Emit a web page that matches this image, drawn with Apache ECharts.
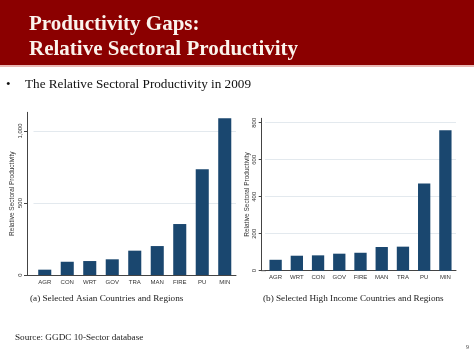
<!DOCTYPE html>
<html><head><meta charset="utf-8">
<script src="https://cdn.jsdelivr.net/npm/echarts@6/dist/echarts.min.js"></script>
<style>html,body{margin:0;padding:0;background:#fff}#c{width:474px;height:355px}</style>
</head><body><div id="c"></div>
<script>
const catsA = ['AGR','CON','WRT','GOV','TRA','MAN','FIRE','PU','MIN'];
const valsA = [37, 92, 97, 109, 169, 201, 354, 734, 1088];
const ticksA = [0, 500, 1000];
const catsB = ['AGR','WRT','CON','GOV','FIRE','MAN','TRA','PU','MIN'];
const valsB = [59, 81, 83, 92, 97, 128, 130, 472, 759];
const ticksB = [0, 200, 400, 600, 800];

const barColor = '#1a476f';
const axisColor = '#444';
const sans = 'Liberation Sans';

function yAx(gi, max, ticks, offset, gap) {
  return {
    type: 'value', gridIndex: gi, min: 0, max: max, offset: offset,
    axisLine: {show: true, lineStyle: {color: axisColor, width: 1}},
    axisTick: {show: true, length: 3, lineStyle: {color: axisColor}, customValues: ticks},
    axisLabel: {customValues: ticks, rotate: 90, fontFamily: sans, fontSize: 6, color: '#333', margin: 4,
      formatter: v => v.toLocaleString('en-US')},
    splitLine: {show: false},
    name: 'Relative Sectoral Productivity', nameLocation: 'middle', nameGap: gap,
    nameTextStyle: {fontFamily: sans, fontSize: 6.5, color: '#333'}
  };
}
function xAx(gi, cats) {
  return {
    type: 'category', gridIndex: gi, data: cats,
    axisLine: {show: true, lineStyle: {color: axisColor, width: 1}},
    axisTick: {show: false},
    axisLabel: {fontFamily: sans, fontSize: 6, color: '#333', margin: 4, interval: 0}
  };
}
function ser(gi, vals) {
  return {
    type: 'bar', xAxisIndex: gi, yAxisIndex: gi, data: vals, barCategoryGap: '42%',
    itemStyle: {color: barColor}, silent: true, z: 5
  };
}
function gridSer(gi, ticks) {
  return {
    type: 'line', xAxisIndex: gi, yAxisIndex: gi, data: [], silent: true, z: 1,
    markLine: {silent: true, symbol: 'none', label: {show: false}, z: 1, animation: false,
      lineStyle: {color: '#e3e9ee', width: 1, type: 'solid'},
      data: ticks.filter(t => t > 0).map(t => ({yAxis: t}))}
  };
}

const chart = echarts.init(document.getElementById('c'), null, {renderer: 'canvas'});
const titleFont = 'bold 21px "Liberation Serif"';
const capFont = '9.2px "Liberation Serif"';
chart.setOption({
  animation: false,
  backgroundColor: '#fff',
  grid: [
    {left: 33.5, top: 112.3, width: 202.5, height: 162.7},
    {left: 265, top: 118.3, width: 191, height: 152.4}
  ],
  xAxis: [xAx(0, catsA), xAx(1, catsB)],
  yAxis: [yAx(0, 1130, ticksA, 6.5, 9.5), yAx(1, 824, ticksB, 3.3, 10.5)],
  series: [gridSer(0, ticksA), gridSer(1, ticksB), ser(0, valsA), ser(1, valsB)],
  graphic: [
    {type: 'rect', shape: {x: 0, y: 0, width: 474, height: 65}, style: {fill: '#8b0000'}, silent: true},
    {type: 'rect', shape: {x: 0, y: 65, width: 474, height: 2}, style: {fill: '#e9b7b3'}, silent: true},
    {type: 'text', x: 29, y: 25, style: {text: 'Productivity Gaps:', font: titleFont, fill: '#fbf3ec', verticalAlign: 'middle'}},
    {type: 'text', x: 29, y: 50, style: {text: 'Relative Sectoral Productivity', font: titleFont, fill: '#fbf3ec', verticalAlign: 'middle'}},
    {type: 'text', x: 6, y: 85, style: {text: '•', font: '13px "Liberation Serif"', fill: '#111', verticalAlign: 'middle'}},
    {type: 'text', x: 25, y: 85, style: {text: 'The Relative Sectoral Productivity in 2009', font: '13.2px "Liberation Serif"', fill: '#111', verticalAlign: 'middle'}},
    {type: 'line', shape: {x1: 27, y1: 275.5, x2: 34, y2: 275.5}, style: {stroke: axisColor, lineWidth: 1}},
    {type: 'line', shape: {x1: 261.7, y1: 270.7, x2: 266, y2: 270.7}, style: {stroke: axisColor, lineWidth: 1}},
    {type: 'text', x: 30, y: 299, style: {text: '(a) Selected Asian Countries and Regions', font: capFont, fill: '#222', verticalAlign: 'middle'}},
    {type: 'text', x: 263, y: 299, style: {text: '(b) Selected High Income Countries and Regions', font: capFont, fill: '#222', verticalAlign: 'middle'}},
    {type: 'text', x: 15, y: 338, style: {text: 'Source: GGDC 10-Sector database', font: capFont, fill: '#222', verticalAlign: 'middle'}},
    {type: 'text', x: 466, y: 347, style: {text: '9', font: '6px "Liberation Serif"', fill: '#444', verticalAlign: 'middle'}}
  ]
});
</script></body></html>
